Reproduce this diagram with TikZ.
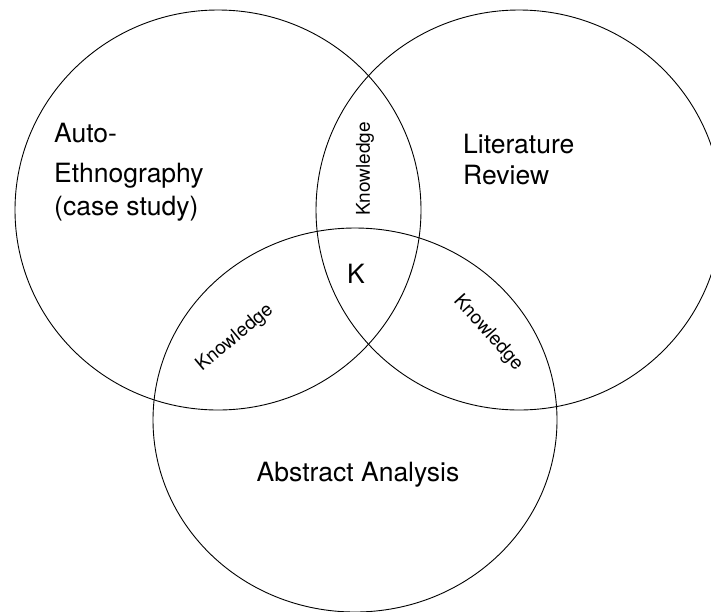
\documentclass[tikz,border=0pt]{standalone}
\usepackage{fontspec}
\setmainfont{TeX Gyre Heros}
\begin{document}
\begin{tikzpicture}[x=1pt,y=-1pt,
  ring/.style={draw=black,line width=0.9pt},
  big/.style={font=\fontsize{26.5}{30}\selectfont,inner sep=0pt},
  small/.style={font=\fontsize{19}{21}\selectfont,inner sep=0pt}]
\useasboundingbox (0,0) rectangle (711,611);
\begin{scope}
  \clip (0,0) rectangle (711,611);
  \draw[ring] (218,210) ellipse [x radius=203pt, y radius=200pt];
  \draw[ring] (519,210) ellipse [x radius=203pt, y radius=200pt];
  \draw[ring] (355,420) ellipse [x radius=202pt, y radius=192pt];
\end{scope}
\node[big,anchor=base west] (auto1) at (54,142) {Auto-};
\node[big,anchor=base west] (auto2) at (54,182) {Ethnography};
\node[big,anchor=base west] (auto3) at (54,215) {(case study)};
\node[big,anchor=base west] (lit1) at (463,153) {Literature};
\node[big,anchor=base west] (lit2) at (463,184) {Review};
\node[big,anchor=base] (abs) at (358,481) {Abstract Analysis};
\node[big,anchor=base] (k) at (356,283) {K};
\node[small,rotate=90] (kt) at (365,169) {Knowledge};
\node[small,rotate=40] (kl) at (235,338) {Knowledge};
\node[small,rotate=-48] (kr) at (488,333) {Knowledge};
\end{tikzpicture}
\end{document}
